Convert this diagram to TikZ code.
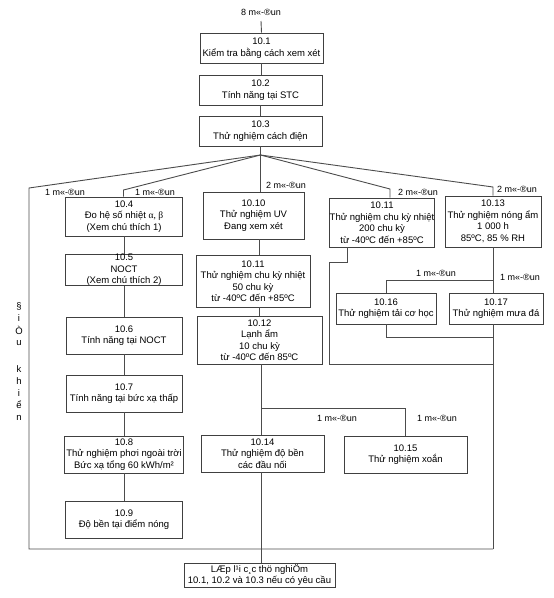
\documentclass[tikz,border=0pt]{standalone}
\usepackage{fontspec}
\setmainfont{Liberation Sans}
\newfontfamily\grk{Liberation Serif}
\begin{document}
\begin{tikzpicture}[x=1pt,y=-1pt,
  every node/.style={font=\fontsize{9.5}{11.5}\selectfont, text=black},
  box/.style={draw=black!75, line width=0.9pt, align=center, inner sep=0pt, minimum width=#1},
  lbl/.style={font=\fontsize{9}{11}\selectfont, inner sep=0pt},
  let/.style={font=\fontsize{9.5}{11}\selectfont, inner sep=0pt},
  conn/.style={draw=black!70, line width=0.9pt}]
\useasboundingbox (0,0) rectangle (554,598);

% top label
\node[lbl] (top) at (261,12) {8 m«-®un};
% main boxes
\node[box=123, minimum height=30] (B1) at (261.5,48) {10.1\\Kiểm tra bằng cách xem xét};
\node[box=123, minimum height=30] (B2) at (260.5,90) {10.2\\Tính năng tại STC};
\node[box=123, minimum height=30] (B3) at (260.5,131) {10.3\\Thử nghiệm cách điện};
\coordinate (F) at (260.5,155);

% left column
\node[box=117, minimum height=39] (B4) at (124,216.5) {10.4\\Đo hệ số nhiệt {\grk α, β}\\(Xem chú thích 1)};
\node[box=117, minimum height=28] (B5) at (124,270) {10.5\\NOCT\\(Xem chú thích 2)};
\node[box=116, minimum height=37] (B6) at (124,335.5) {10.6\\Tính năng tại NOCT};
\node[box=116, minimum height=37] (B7) at (124,393.5) {10.7\\Tính năng tại bức xạ thấp};
\node[box=119, minimum height=37] (B8) at (124,454.5) {10.8\\Thử nghiệm phơi ngoài trời\\Bức xạ tổng 60 kWh/m²};
\node[box=117, minimum height=37] (B9) at (124,519.5) {10.9\\Độ bền tại điểm nóng};

% middle column
\node[box=101, minimum height=47] (B10) at (253.5,215.5) {10.10\\Thử nghiệm UV\\Đang xem xét};
\node[box=114, minimum height=52] (B11m) at (253,281) {10.11\\Thử nghiệm chu kỳ nhiệt\\50 chu kỳ\\từ -40ºC đến +85ºC};
\node[box=125, minimum height=48] (B12) at (259.5,340) {10.12\\Lạnh ẩm\\10 chu kỳ\\từ -40ºC đến 85ºC};
\node[box=123, minimum height=37] (B14) at (262.5,453.5) {10.14\\Thử nghiệm độ bền\\các đầu nối};
\node[box=123, minimum height=37] (B15) at (405.5,454.5) {10.15\\Thử nghiệm xoắn};

% right columns
\node[box=104, minimum height=49] (B11r) at (382,222.5) {10.11\\Thử nghiệm chu kỳ nhiệt\\200 chu kỳ\\từ -40ºC đến +85ºC};
\node[box=96, minimum height=51] (B13) at (493,221.5) {10.13\\Thử nghiệm nóng ẩm\\1 000 h\\85ºC, 85 \% RH};
\node[box=100, minimum height=31] (B16) at (386,308.5) {10.16\\Thử nghiệm tải cơ học};
\node[box=94, minimum height=31] (B17) at (496,308.5) {10.17\\Thử nghiệm mưa đá};

% bottom box
\node[box=151, minimum height=24] (Bot) at (259.5,575) {LÆp l¹i c¸c thö nghiÖm\\10.1, 10.2 và 10.3 nếu có yêu cầu};

% coordinates
\coordinate (cL) at (29,188);
\coordinate (c4) at (123.5,190);
\coordinate (c11r) at (390,189);
\coordinate (c13) at (493,187);
\coordinate (cBL) at (29,549);
\coordinate (cBR) at (493,549);
\coordinate (xm) at (259,0);
\coordinate (xb) at (261,0);
\coordinate (j15) at (261,408);
\coordinate (r0) at (347,247);
\coordinate (r1) at (347,262);
\coordinate (r2) at (329,262);
\coordinate (r3) at (329,364);
\coordinate (r4) at (493,364);
\coordinate (j16) at (493,280);
\coordinate (k1) at (386,337);
\coordinate (k2) at (493,337);
\coordinate (tp) at (261,21);

% labels
\node[lbl] (l1) at (65,192) {1 m«-®un};
\node[lbl] (l2) at (155,192) {1 m«-®un};
\node[lbl] (l3) at (286,185) {2 m«-®un};
\node[lbl] (l4) at (418,192) {2 m«-®un};
\node[lbl] (l5) at (517,189) {2 m«-®un};
\node[lbl] (l6) at (436,273) {1 m«-®un};
\node[lbl] (l7) at (520,277) {1 m«-®un};
\node[lbl] (l8) at (337,418) {1 m«-®un};
\node[lbl] (l9) at (437,418) {1 m«-®un};

% vertical left text
\node[let] (v1) at (19,306) {§};
\node[let] (v2) at (19,318) {i};
\node[let] (v3) at (19,330) {Ò};
\node[let] (v4) at (19,343) {u};
\node[let] (v5) at (19,369) {k};
\node[let] (v6) at (19,381) {h};
\node[let] (v7) at (19,393) {i};
\node[let] (v8) at (19,405) {ể};
\node[let] (v9) at (19,418) {n};

% connectors
\path[conn] (tp) -- (B1.north);
\path[conn] (B1.south) -- (B1.south |- B2.north);
\path[conn] (B2.south) -- (B3.north);
\path[conn] (B3.south) -- (F);
\path[conn] (F) -- (cL) -- (cBL) -- (cBR);
\path[conn] (F) -- (c4) -- (c4 |- B4.north);
\path[conn] (F) -- (F |- B10.north);
\path[conn] (F) -- (c11r) -- (c11r |- B11r.north);
\path[conn] (F) -- (c13) -- (B13.north);
\path[conn] (B4.south) -- (B5.north);
\path[conn] (B5.south) -- (B6.north);
\path[conn] (B6.south) -- (B7.north);
\path[conn] (B7.south) -- (B8.north);
\path[conn] (B8.south) -- (B9.north);
\path[conn] (xm |- B10.south) -- (xm |- B11m.north);
\path[conn] (xm |- B11m.south) -- (xm |- B12.north);
\path[conn] (xb |- B12.south) -- (xb |- B14.north);
\path[conn] (j15) -- (j15 -| B15.north) -- (B15.north);
\path[conn] (xb |- B14.south) -- (xb |- Bot.north);
\path[conn] (r0) -- (r1) -- (r2) -- (r3) -- (r4);
\path[conn] (B13.south) -- (B13.south |- B17.north);
\path[conn] (j16) -- (j16 -| B16.north) -- (B16.north);
\path[conn] (B16.south) -- (k1) -- (k2);
\path[conn] (B13.south |- B17.south) -- (cBR);
\end{tikzpicture}
\end{document}
